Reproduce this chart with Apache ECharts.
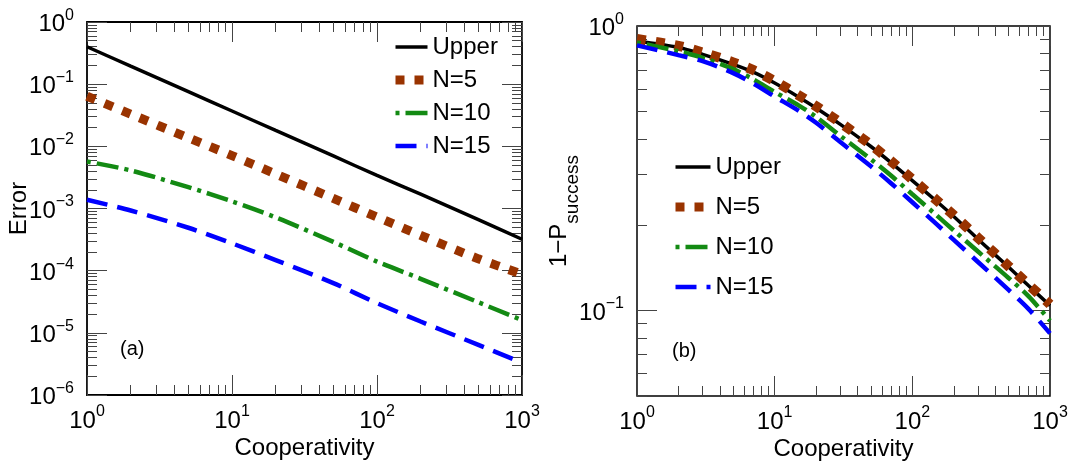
<!DOCTYPE html>
<html><head><meta charset="utf-8">
<script src="https://cdn.jsdelivr.net/npm/echarts@6/dist/echarts.min.js"></script>
<style>html,body{margin:0;padding:0;background:#fff}#c{width:1076px;height:461px}</style>
</head><body><div id="c"></div>
<script>
// ---------- data ----------
const seriesNames = ['Upper', 'N=5', 'N=10', 'N=15'];
// panel (a): Error vs Cooperativity
const xLeft = [1, 2, 5, 10, 20, 50, 100, 200, 500, 1000];
const errUpper = [0.40, 0.195, 0.076, 0.037, 0.018, 0.0070, 0.0034, 0.0017, 0.00066, 0.00032];
const errN5 = [0.064, 0.033, 0.0137, 0.0071, 0.0036, 0.00145, 0.00073, 0.00037, 0.000155, 0.000088];
const errN10 = [0.0057, 0.0041, 0.0022, 0.0013, 0.00072, 0.00029, 0.00014, 0.000074, 0.000031, 0.000016];
const errN15 = [0.00138, 0.00093, 0.00049, 0.000275, 0.000148, 0.000063, 0.00003, 0.0000152, 0.0000064, 0.0000033];
// panel (b): 1-P_success vs Cooperativity
const xRight = [1, 2, 3, 5, 7, 10, 15, 20, 30, 50, 70, 100, 150, 200, 300, 500, 700, 1000];
const pUpper = [0.885, 0.84, 0.795, 0.733, 0.688, 0.63, 0.562, 0.515, 0.451, 0.377, 0.331, 0.286, 0.242, 0.214, 0.178, 0.142, 0.122, 0.104];
const pN5 = [0.90, 0.851, 0.807, 0.745, 0.700, 0.640, 0.570, 0.522, 0.457, 0.382, 0.335, 0.289, 0.244, 0.216, 0.180, 0.143, 0.123, 0.105];
const pN10 = [0.875, 0.815, 0.773, 0.705, 0.649, 0.586, 0.525, 0.479, 0.411, 0.340, 0.298, 0.256, 0.216, 0.191, 0.161, 0.130, 0.112, 0.092];
const pN15 = [0.855, 0.79, 0.752, 0.683, 0.627, 0.565, 0.503, 0.457, 0.391, 0.321, 0.280, 0.240, 0.201, 0.177, 0.148, 0.118, 0.101, 0.083];
// tick values
const xMajorTicks = [1, 10, 100, 1000];
const yLeftMajorTicks = [1e-6, 1e-5, 1e-4, 1e-3, 1e-2, 1e-1, 1];
const yRightMajorTicks = [0.1, 1];
const minorMultipliers = [2, 3, 4, 5, 6, 7, 8, 9];

function minorsOf(decades) {
  const out = [];
  decades.forEach(d => minorMultipliers.forEach(m => out.push(+(m * d).toPrecision(3))));
  return out;
}
const xMinorTicks = minorsOf([1, 10, 100]);
const yLeftMinorTicks = minorsOf([1e-6, 1e-5, 1e-4, 1e-3, 1e-2, 1e-1]);
const yRightMinorTicks = minorsOf([0.01, 0.1]).filter(v => v >= 0.05);

// ---------- styling ----------
const F = '"Liberation Sans", Arial, Helvetica, sans-serif';
const TICK = { color: '#444', width: 1 };
const richLab = {
  b: { fontSize: 24, fontFamily: F, color: '#000', padding: [5, 0, 0, 0], verticalAlign: 'bottom' },
  s: { fontSize: 16, fontFamily: F, color: '#000', verticalAlign: 'top' }
};
function pow10Label(v) {
  const e = Math.round(Math.log10(v));
  return '{b|10}{s|' + (e < 0 ? '\u2212' + (-e) : String(e)) + '}';
}

function axisSet(dim, gridIndex, min, max, major, minor, posMain, posOther, nameCfg) {
  const base = {
    type: 'log', logBase: 10, min: min, max: max, gridIndex: gridIndex,
    axisLine: { show: false }, splitLine: { show: false },
    minorTick: { show: false }, minorSplitLine: { show: false }
  };
  const tick = (vals, len) => ({ show: true, inside: true, length: len, customValues: vals, lineStyle: TICK });
  const main = Object.assign({}, base, {
    position: posMain,
    nameMoveOverlap: false,
    axisTick: tick(major, 20),
    axisLabel: { show: true, fontSize: 24, fontFamily: F, color: '#000', customValues: major, margin: dim === 'x' ? 9 : 13, formatter: pow10Label, rich: richLab }
  }, nameCfg);
  return [
    main,
    Object.assign({}, base, { position: posMain, axisTick: tick(minor, 10), axisLabel: { show: false } }),
    Object.assign({}, base, { position: posOther, axisTick: tick(major, 20), axisLabel: { show: false } }),
    Object.assign({}, base, { position: posOther, axisTick: tick(minor, 10), axisLabel: { show: false } })
  ];
}

const xName = {
  name: 'Cooperativity', nameLocation: 'middle', nameGap: 41,
  nameTextStyle: { fontSize: 24, fontFamily: F, color: '#000' }
};
const xAxes = [].concat(
  axisSet('x', 0, 1, 1000, xMajorTicks, xMinorTicks, 'bottom', 'top', xName),
  axisSet('x', 1, 1, 1000, xMajorTicks, xMinorTicks, 'bottom', 'top', xName)
);
const yAxes = [].concat(
  axisSet('y', 0, 1e-6, 1, yLeftMajorTicks, yLeftMinorTicks, 'left', 'right', {
    name: 'Error', nameLocation: 'middle', nameGap: 56,
    nameTextStyle: { fontSize: 24, fontFamily: F, color: '#000' }
  }),
  axisSet('y', 1, 0.05, 1, yRightMajorTicks, yRightMinorTicks, 'left', 'right', {
    name: '{m|1\u2212P}{s|success}', nameLocation: 'middle', nameGap: 55,
    nameTextStyle: {
      fontFamily: F, color: '#000',
      rich: {
        m: { fontSize: 24, fontFamily: F, color: '#000', verticalAlign: 'top' },
        s: { fontSize: 19, fontFamily: F, color: '#000', verticalAlign: 'bottom', padding: [16, 0, 0, 0] }
      }
    }
  })
);

const styles = {
  'Upper': { color: '#000000', width: 3.5, type: 'solid' },
  'N=5': { color: '#993300', width: 9, type: [9, 10] },
  'N=10': { color: '#138a13', width: 4.5, type: [4, 6, 22, 6] },
  'N=15': { color: '#0000ff', width: 4.5, type: [21, 10] }
};
function mk(name, xs, ys, xi, yi, widthOverride) {
  const st = styles[name];
  return {
    name: name, type: 'line', xAxisIndex: xi, yAxisIndex: yi,
    data: xs.map((x, i) => [x, ys[i]]),
    symbol: 'none', smooth: 0.3, animation: false,
    lineStyle: { color: st.color, width: widthOverride || st.width, type: st.type, cap: 'butt' },
    itemStyle: { color: st.color }
  };
}
const series = [
  mk('Upper', xLeft, errUpper, 0, 0),
  mk('N=5', xLeft, errN5, 0, 0),
  mk('N=10', xLeft, errN10, 0, 0),
  mk('N=15', xLeft, errN15, 0, 0),
  mk('Upper', xRight, pUpper, 4, 4),
  mk('N=5', xRight, pN5, 4, 4, 10),
  mk('N=10', xRight, pN10, 4, 4),
  mk('N=15', xRight, pN15, 4, 4)
];

const legendBase = {
  orient: 'vertical', padding: 0,
  data: seriesNames, selectedMode: false,
  itemHeight: 14,
  textStyle: { fontSize: 24, fontFamily: F, color: '#000' },
  lineStyle: { width: 'inherit' },
  itemStyle: { opacity: 0, color: 'transparent', borderWidth: 0 }
};

const chart = echarts.init(document.getElementById('c'), null, { renderer: 'canvas' });
chart.setOption({
  animation: false,
  backgroundColor: '#fff',
  grid: [
    { left: 87, top: 22, width: 435, height: 373, show: true, borderColor: '#000', borderWidth: 1.8, outerBoundsMode: 'none', containLabel: false },
    { left: 637, top: 26, width: 413, height: 370, show: true, borderColor: '#000', borderWidth: 1.5, outerBoundsMode: 'none', containLabel: false }
  ],
  xAxis: xAxes,
  yAxis: yAxes,
  legend: [
    Object.assign({}, legendBase, { left: 391, top: 35, itemWidth: 32, itemGap: 9, itemTextGap: 2 }),
    Object.assign({}, legendBase, { left: 671, top: 155, itemWidth: 35, itemGap: 16, itemTextGap: 3 })
  ],
  graphic: [
    { type: 'text', left: 120, top: 339, style: { text: '(a)', fontSize: 20, fontFamily: F, fill: '#000' } },
    { type: 'text', left: 672, top: 341, style: { text: '(b)', fontSize: 20, fontFamily: F, fill: '#000' } }
  ],
  series: series
});
</script></body></html>
